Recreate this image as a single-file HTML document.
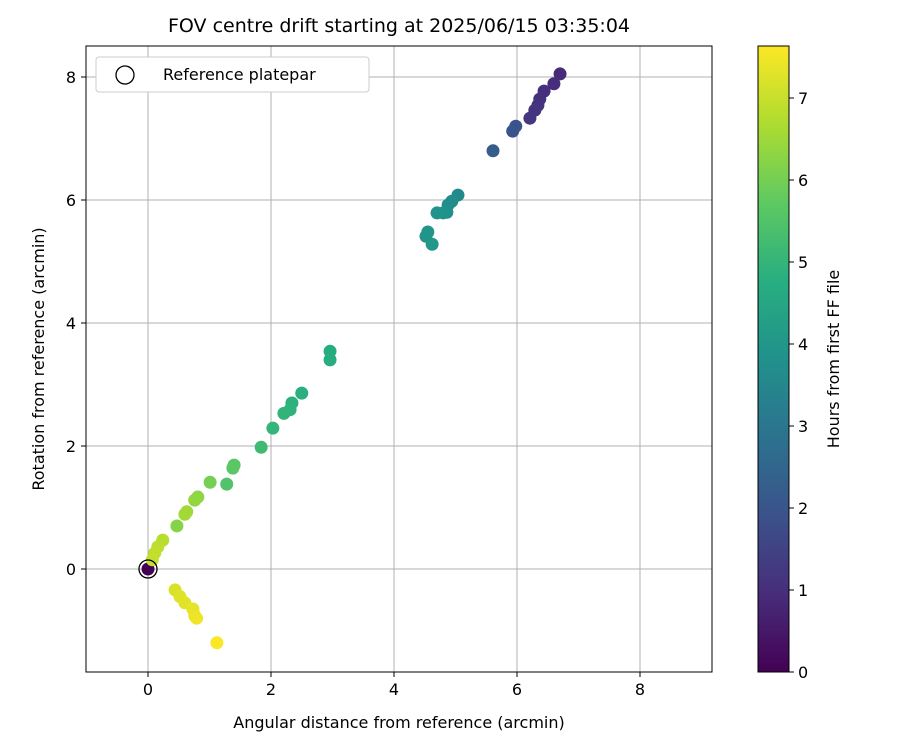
<!DOCTYPE html>
<html><head><meta charset="utf-8"><style>
body{margin:0;background:#fff;}
svg text{font-family:"DejaVu Sans","Liberation Sans",sans-serif;}
</style></head><body>
<svg id="chart" width="900" height="750">
<defs><linearGradient id="vir" x1="0" y1="1" x2="0" y2="0">
<stop offset="0" stop-color="#440154"/><stop offset="0.125" stop-color="#472d7b"/><stop offset="0.25" stop-color="#3b528b"/><stop offset="0.375" stop-color="#2c728e"/><stop offset="0.5" stop-color="#21918c"/><stop offset="0.625" stop-color="#28ae80"/><stop offset="0.75" stop-color="#5ec962"/><stop offset="0.875" stop-color="#addc30"/><stop offset="1" stop-color="#fde725"/></linearGradient></defs>
<g id="grid"></g>
<g id="marks"></g>
<rect x="86" y="46" width="626" height="626" fill="none" stroke="#000" stroke-width="1"/>
<g id="ticks"></g>
<text x="399" y="32" font-size="19" text-anchor="middle">FOV centre drift starting at 2025/06/15 03:35:04</text>
<text x="399" y="728" font-size="16" text-anchor="middle">Angular distance from reference (arcmin)</text>
<text x="44" y="359" font-size="16" text-anchor="middle" transform="rotate(-90 44 359)">Rotation from reference (arcmin)</text>
<g>
<rect x="96" y="57" width="273" height="35" rx="3" fill="#fff" stroke="#ccc"/>
<circle cx="125" cy="75" r="9" fill="none" stroke="#000" stroke-width="1.3"/>
<text x="163" y="80" font-size="16">Reference platepar</text>
</g>
<rect x="758" y="46" width="31" height="626" fill="url(#vir)" stroke="#000" stroke-width="1"/>
<g id="cbticks"></g>
<text x="839" y="359" font-size="16" text-anchor="middle" transform="rotate(-90 839 359)">Hours from first FF file</text>
</svg>
<script>
const xs=[0,6.70,6.60,6.44,6.37,6.34,6.29,6.21,5.98,5.93,5.61,5.04,4.94,4.88,4.86,4.80,4.70,4.55,4.52,4.62,2.96,2.96,2.50,2.34,2.31,2.21,2.03,1.84,1.40,1.38,1.28,1.01,0.81,0.76,0.63,0.60,0.47,0.24,0.16,0.11,0.07,0.44,0.52,0.60,0.73,0.76,0.79,1.12];
const ys=[0,8.05,7.89,7.77,7.64,7.54,7.46,7.33,7.20,7.12,6.80,6.08,5.98,5.92,5.80,5.79,5.79,5.48,5.41,5.28,3.54,3.40,2.86,2.70,2.59,2.53,2.29,1.98,1.69,1.64,1.38,1.41,1.17,1.12,0.93,0.89,0.70,0.47,0.36,0.26,0.15,-0.34,-0.45,-0.55,-0.65,-0.76,-0.80,-1.20];
const hrs=[0,0.9,0.95,1.0,1.05,1.1,1.15,1.2,1.9,1.95,2.2,3.6,3.65,3.7,3.75,3.8,3.85,3.9,3.95,4.0,4.7,4.75,4.8,4.85,4.9,4.95,5.0,5.2,5.6,5.65,5.5,6.0,6.3,6.35,6.5,6.55,6.2,6.8,6.85,6.9,6.95,7.2,7.25,7.3,7.35,7.4,7.45,7.6];
const xTicks=[0,2,4,6,8], yTicks=[0,2,4,6,8], cTicks=[0,1,2,3,4,5,6,7];
const X=v=>148+v*61.5, Y=v=>569-v*61.5, C=v=>672-v*82;
const vir=[[68,1,84],[71,45,123],[59,82,139],[44,114,142],[33,145,140],[40,174,128],[94,201,98],[173,220,48],[253,231,37]];
function col(h){let t=Math.max(0,Math.min(1,h/7.63))*8,i=Math.min(7,Math.floor(t)),f=t-i;return 'rgb('+vir[i].map((c,k)=>Math.round(c+(vir[i+1][k]-c)*f)).join(',')+')';}
const NS='http://www.w3.org/2000/svg';
function mk(p,tag,a){const e=document.createElementNS(NS,tag);for(const k in a)e.setAttribute(k,a[k]);p.appendChild(e);return e;}
const grid=document.getElementById('grid'),ticks=document.getElementById('ticks'),marks=document.getElementById('marks'),cb=document.getElementById('cbticks');
xTicks.forEach(v=>{const l=mk(grid,'line',{x1:X(v),x2:X(v),y1:46,y2:672,stroke:'#b0b0b0','stroke-width':1});


mk(ticks,'line',{x1:X(v),x2:X(v),y1:672,y2:677,stroke:'#000'});
const t=mk(ticks,'text',{x:X(v),y:695,'font-size':16,'text-anchor':'middle'});t.textContent=v;

});
yTicks.forEach(v=>{const l=mk(grid,'line',{x1:86,x2:712,y1:Y(v),y2:Y(v),stroke:'#b0b0b0','stroke-width':1});


mk(ticks,'line',{x1:81,x2:86,y1:Y(v),y2:Y(v),stroke:'#000'});
const t=mk(ticks,'text',{x:76,y:Y(v)+6,'font-size':16,'text-anchor':'end'});t.textContent=v;

});
cTicks.forEach(v=>{mk(cb,'line',{x1:789,x2:794,y1:C(v),y2:C(v),stroke:'#000'});
const t=mk(cb,'text',{x:798,y:C(v)+6,'font-size':16});t.textContent=v;

});
xs.forEach((x,i)=>{const c=mk(marks,'circle',{cx:X(x),cy:Y(ys[i]),r:6.5,fill:col(hrs[i])});

});
const ref=mk(marks,'circle',{cx:X(0),cy:Y(0),r:9,fill:'none',stroke:'#000','stroke-width':1.3});


</script>
</body></html>
